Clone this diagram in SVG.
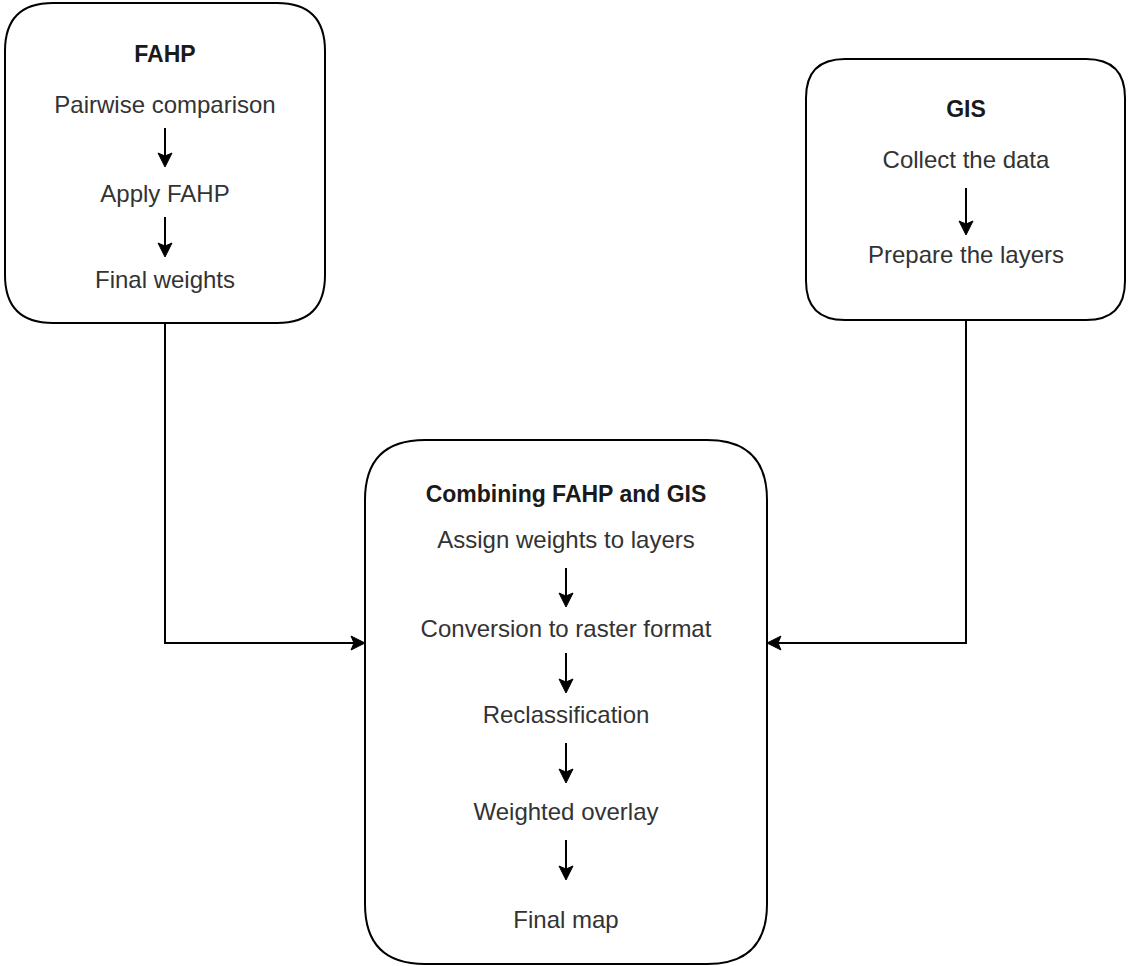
<svg xmlns="http://www.w3.org/2000/svg" width="1128" height="966" viewBox="0 0 1128 966">
<style>
.box{fill:#ffffff;stroke:#000000;stroke-width:2}
.t{font-family:"Liberation Sans",Arial,sans-serif;font-size:24px;fill:#333333;text-anchor:middle}
.b{font-weight:bold;fill:#1a1a1a;font-size:23px}
.ln{fill:none;stroke:#000000;stroke-width:2}
</style>
<defs>
<marker id="ah" markerUnits="userSpaceOnUse" orient="auto" refX="0" refY="0" markerWidth="20" markerHeight="20" viewBox="-8 -10 20 20" overflow="visible">
<path d="M8,0 L-6,-7 L-3,0 L-6,7 Z" fill="#000000" stroke="#000000" stroke-width="1"/>
</marker>
</defs>
<rect width="1128" height="966" fill="#ffffff"/>
<g id="fahp">
<path class="box" d="M53,3 H277 Q325,3 325,51 V275 Q325,323 277,323 H53 Q5,323 5,275 V51 Q5,3 53,3 Z"/>
<text class="t b" x="165" y="62">FAHP</text>
<text class="t" x="165" y="113">Pairwise comparison</text>
<line class="ln" x1="165" y1="128" x2="165" y2="159" marker-end="url(#ah)"/>
<text class="t" x="165" y="202">Apply FAHP</text>
<line class="ln" x1="165" y1="217" x2="165" y2="249" marker-end="url(#ah)"/>
<text class="t" x="165" y="288">Final weights</text>
</g>
<g id="gis">
<path class="box" d="M845,59 H1086 Q1125,59 1125,98 V281 Q1125,320 1086,320 H845 Q806,320 806,281 V98 Q806,59 845,59 Z"/>
<text class="t b" x="966" y="117">GIS</text>
<text class="t" x="966" y="168">Collect the data</text>
<line class="ln" x1="966" y1="188" x2="966" y2="227" marker-end="url(#ah)"/>
<text class="t" x="966" y="263">Prepare the layers</text>
</g>
<g id="combine">
<path class="box" d="M425,440 H707 Q767,440 767,500 V904 Q767,964 707,964 H425 Q365,964 365,904 V500 Q365,440 425,440 Z"/>
<text class="t b" x="566" y="502">Combining FAHP and GIS</text>
<text class="t" x="566" y="548">Assign weights to layers</text>
<line class="ln" x1="566" y1="568" x2="566" y2="599" marker-end="url(#ah)"/>
<text class="t" x="566" y="637">Conversion to raster format</text>
<line class="ln" x1="566" y1="653" x2="566" y2="685" marker-end="url(#ah)"/>
<text class="t" x="566" y="723">Reclassification</text>
<line class="ln" x1="566" y1="743" x2="566" y2="775" marker-end="url(#ah)"/>
<text class="t" x="566" y="820">Weighted overlay</text>
<line class="ln" x1="566" y1="840" x2="566" y2="872" marker-end="url(#ah)"/>
<text class="t" x="566" y="928">Final map</text>
</g>
<g id="connectors">
<path class="ln" d="M165,323 V643 H357" marker-end="url(#ah)"/>
<path class="ln" d="M966,320 V643 H775" marker-end="url(#ah)"/>
</g>
</svg>
